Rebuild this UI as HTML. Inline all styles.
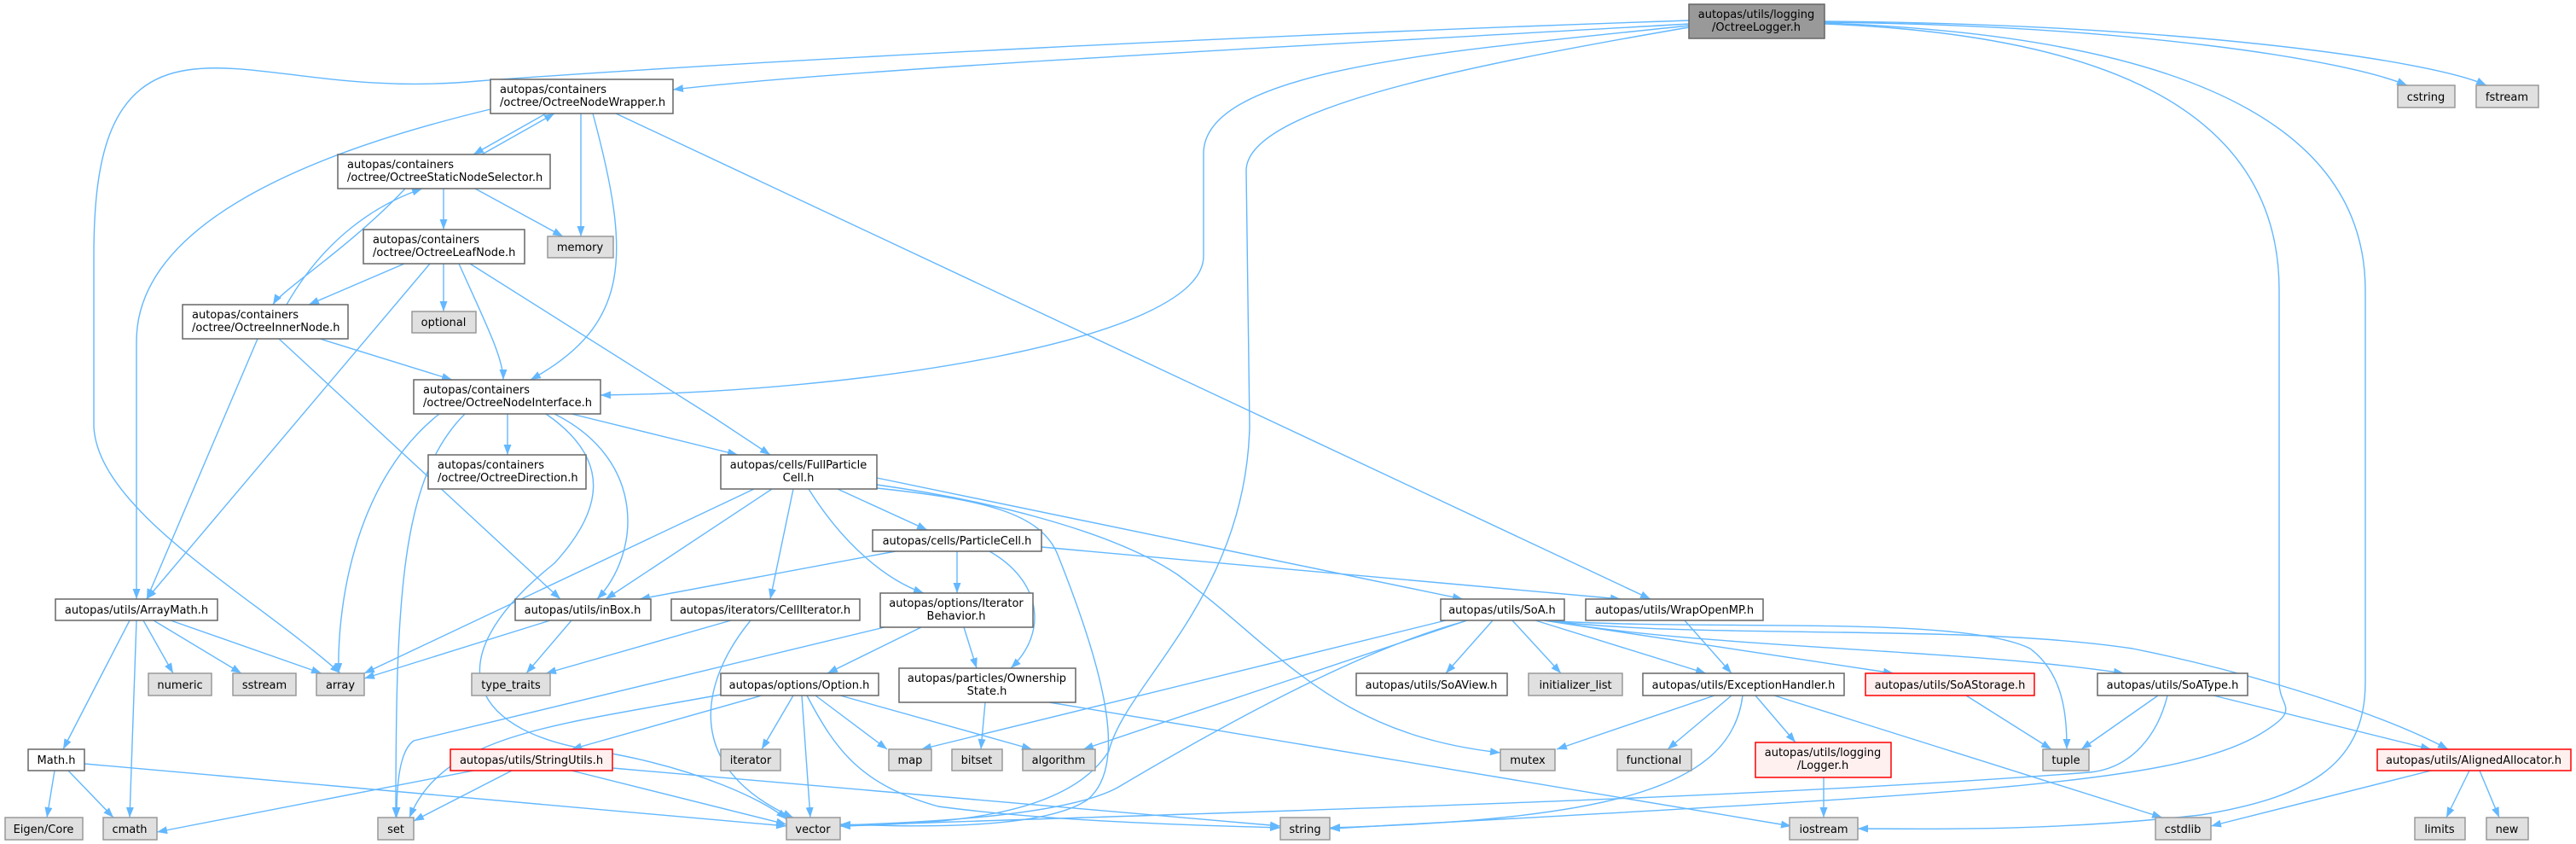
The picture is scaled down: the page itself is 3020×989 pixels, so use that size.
<!DOCTYPE html>
<html><head><meta charset="utf-8"><style>
html,body{margin:0;padding:0;background:#fff}
svg{display:block}
text{font-family:"DejaVu Sans","Liberation Sans",sans-serif;font-size:13px;fill:#000}
.e{fill:none;stroke:#63b8ff;stroke-width:1.4}
.n{fill:#fff;stroke:#666;stroke-width:1.5}
.g{fill:#e0e0e0;stroke:#999;stroke-width:1.5}
.r{fill:#fff0f0;stroke:#f00;stroke-width:1.5}
.root{fill:#999;stroke:#666;stroke-width:1.5}
</style></head><body>
<svg width="3020" height="989" viewBox="0 0 3020 989" xmlns="http://www.w3.org/2000/svg">
<defs><marker id="a" markerUnits="userSpaceOnUse" markerWidth="13" markerHeight="10" refX="12" refY="4.5" orient="auto"><path d="M0,0 L12,4.5 L0,9 z" fill="#63b8ff"/></marker></defs>
<g class="e" marker-end="url(#a)">
<path d="M1980,28 C1600,50 1000,80 789,105"/>
<path d="M1980,24 C1500,40 900,70 560,95 C400,110 300,70 220,82 C130,95 110,180 110,300 L110,500 C115,600 300,700 399,789"/>
<path d="M1980,30 C1700,60 1411,80 1411,180 L1411,300 C1411,400 1000,460 704,463"/>
<path d="M1980,32 C1700,80 1461,130 1461,200 L1465,500 C1460,700 1320,800 1300,880 C1250,960 1100,965 985,968"/>
<path d="M2139,26 C2500,30 2750,70 2822,100"/>
<path d="M2139,25 C2550,28 2850,70 2915,100"/>
<path d="M2139,28 C2450,40 2672,120 2672,340 L2672,800 C2672,830 2700,830 2650,860 C2550,920 2300,930 1559,971"/>
<path d="M2139,27 C2500,40 2773,120 2773,340 L2773,800 C2773,900 2700,935 2580,955 C2400,975 2250,971 2178,971"/>
<path d="M640,133 L555,181"/>
<path d="M565,181 L650,133"/>
<path d="M681,133 L681,277"/>
<path d="M695,133 C740,300 740,380 622,445"/>
<path d="M722,133 L1935,702"/>
<path d="M575,128 C400,170 160,250 160,400 L160,702"/>
<path d="M520,221 L520,269"/>
<path d="M557,221 L660,277"/>
<path d="M475,221 C410,290 330,340 320,357"/>
<path d="M336,357 C380,280 440,240 495,221"/>
<path d="M474,309 L362,357"/>
<path d="M504,309 L172,702"/>
<path d="M520,309 L520,365"/>
<path d="M538,309 C570,380 590,420 590,445"/>
<path d="M551,309 L838,490 L903,533"/>
<path d="M302,397 L172,702"/>
<path d="M327,397 L657,702"/>
<path d="M375,397 L530,445"/>
<path d="M595,485 L595,533"/>
<path d="M670,485 L865,533"/>
<path d="M515,485 C420,560 395,700 397,789"/>
<path d="M545,485 C470,560 464,700 464,958"/>
<path d="M650,485 C760,540 750,650 700,702"/>
<path d="M640,485 C720,540 705,600 650,660 C500,780 560,860 700,880 C820,900 900,940 922,960"/>
<path d="M884,573 L427,789"/>
<path d="M905,573 L710,702"/>
<path d="M930,573 L903,702"/>
<path d="M948,573 C990,640 1040,680 1083,695"/>
<path d="M982,573 L1087,621"/>
<path d="M1028,560 L1715,702"/>
<path d="M1028,568 C1150,585 1300,620 1380,673 C1500,760 1560,860 1759,882"/>
<path d="M1028,572 C1150,585 1220,600 1240,650 C1300,800 1320,900 1275,937 C1220,975 1050,968 985,966"/>
<path d="M1050,646 L750,702"/>
<path d="M1122,646 L1122,695"/>
<path d="M1160,646 C1220,680 1230,740 1185,783"/>
<path d="M1221,641 L1900,702"/>
<path d="M1080,735 L970,789"/>
<path d="M1130,735 L1145,783"/>
<path d="M1037,735 L485,868 C468,880 465,920 465,958"/>
<path d="M857,727 L640,789"/>
<path d="M880,727 C820,800 800,900 930,958"/>
<path d="M645,727 L427,795"/>
<path d="M670,727 L617,789"/>
<path d="M152,727 L74,878"/>
<path d="M160,727 L152,958"/>
<path d="M168,727 L203,789"/>
<path d="M180,727 L283,789"/>
<path d="M200,727 L377,789"/>
<path d="M64,903 L55,958"/>
<path d="M80,903 L133,958"/>
<path d="M99,895 L922,968"/>
<path d="M893,815 L670,878"/>
<path d="M845,814 C650,850 520,860 480,958"/>
<path d="M930,815 L893,878"/>
<path d="M940,815 L950,958"/>
<path d="M946,815 C980,880 1010,920 1100,945 C1250,965 1450,968 1501,970"/>
<path d="M956,815 L1040,878"/>
<path d="M985,815 L1210,878"/>
<path d="M1155,823 L1150,878"/>
<path d="M1230,823 L2100,968"/>
<path d="M555,903 L184,975"/>
<path d="M600,903 L485,962"/>
<path d="M670,903 L922,966"/>
<path d="M718,900 L1501,968"/>
<path d="M1695,727 L1080,878"/>
<path d="M1720,727 L1270,878"/>
<path d="M1717,728 C1600,760 1450,840 1310,923 C1250,955 1100,963 985,967"/>
<path d="M1750,727 L1695,789"/>
<path d="M1773,727 L1830,789"/>
<path d="M1800,727 L2000,789"/>
<path d="M1810,727 L2220,789"/>
<path d="M1813,727 C2000,760 2300,760 2490,789"/>
<path d="M1810,727 C2000,740 2300,720 2380,760 C2420,790 2423,840 2423,878"/>
<path d="M1810,727 C2000,750 2300,730 2500,760 C2650,790 2800,840 2870,878"/>
<path d="M1975,727 L2030,789"/>
<path d="M2010,815 L1825,878"/>
<path d="M2030,815 L1955,878"/>
<path d="M2043,815 C2030,920 1900,960 1559,970"/>
<path d="M2058,815 L2105,870"/>
<path d="M2080,815 L2535,958"/>
<path d="M2138,911 L2138,958"/>
<path d="M2305,815 L2405,878"/>
<path d="M2530,815 L2440,878"/>
<path d="M2541,815 C2530,860 2500,900 2450,905 C2000,940 1300,955 985,968"/>
<path d="M2595,815 L2850,878"/>
<path d="M2850,903 L2592,968"/>
<path d="M2895,903 L2868,958"/>
<path d="M2907,903 L2930,958"/>
</g>
<g>
<rect class="root" x="1980" y="5" width="159" height="40"/><text x="2059" y="21" text-anchor="middle">autopas/utils/logging</text><text x="2059" y="36" text-anchor="middle">/OctreeLogger.h</text>
<rect class="g" x="2811" y="100" width="67" height="26"/><text x="2844" y="118" text-anchor="middle">cstring</text>
<rect class="g" x="2903" y="100" width="73" height="26"/><text x="2939" y="118" text-anchor="middle">fstream</text>
<rect class="n" x="575" y="93" width="214" height="40"/><text x="586" y="109">autopas/containers</text><text x="586" y="124">/octree/OctreeNodeWrapper.h</text>
<rect class="n" x="396" y="181" width="249" height="40"/><text x="407" y="197">autopas/containers</text><text x="407" y="212">/octree/OctreeStaticNodeSelector.h</text>
<rect class="g" x="642" y="277" width="77" height="25"/><text x="680" y="294" text-anchor="middle">memory</text>
<rect class="n" x="426" y="269" width="189" height="40"/><text x="437" y="285">autopas/containers</text><text x="437" y="300">/octree/OctreeLeafNode.h</text>
<rect class="g" x="483" y="365" width="75" height="25"/><text x="520" y="382" text-anchor="middle">optional</text>
<rect class="n" x="214" y="357" width="194" height="40"/><text x="225" y="373">autopas/containers</text><text x="225" y="388">/octree/OctreeInnerNode.h</text>
<rect class="n" x="485" y="445" width="219" height="40"/><text x="496" y="461">autopas/containers</text><text x="496" y="476">/octree/OctreeNodeInterface.h</text>
<rect class="n" x="502" y="533" width="185" height="40"/><text x="513" y="549">autopas/containers</text><text x="513" y="564">/octree/OctreeDirection.h</text>
<rect class="n" x="845" y="533" width="183" height="40"/><text x="936" y="549" text-anchor="middle">autopas/cells/FullParticle</text><text x="936" y="564" text-anchor="middle">Cell.h</text>
<rect class="n" x="1023" y="621" width="198" height="25"/><text x="1122" y="638" text-anchor="middle">autopas/cells/ParticleCell.h</text>
<rect class="n" x="1032" y="695" width="179" height="40"/><text x="1121" y="711" text-anchor="middle">autopas/options/Iterator</text><text x="1121" y="726" text-anchor="middle">Behavior.h</text>
<rect class="n" x="65" y="702" width="190" height="25"/><text x="160" y="719" text-anchor="middle">autopas/utils/ArrayMath.h</text>
<rect class="n" x="604" y="702" width="159" height="25"/><text x="683" y="719" text-anchor="middle">autopas/utils/inBox.h</text>
<rect class="n" x="787" y="702" width="221" height="25"/><text x="897" y="719" text-anchor="middle">autopas/iterators/CellIterator.h</text>
<rect class="n" x="1689" y="702" width="145" height="25"/><text x="1761" y="719" text-anchor="middle">autopas/utils/SoA.h</text>
<rect class="n" x="1859" y="702" width="208" height="25"/><text x="1963" y="719" text-anchor="middle">autopas/utils/WrapOpenMP.h</text>
<rect class="g" x="174" y="789" width="74" height="26"/><text x="211" y="807" text-anchor="middle">numeric</text>
<rect class="g" x="273" y="789" width="74" height="26"/><text x="310" y="807" text-anchor="middle">sstream</text>
<rect class="g" x="371" y="789" width="56" height="26"/><text x="399" y="807" text-anchor="middle">array</text>
<rect class="g" x="553" y="789" width="92" height="26"/><text x="599" y="807" text-anchor="middle">type_traits</text>
<rect class="n" x="845" y="789" width="185" height="26"/><text x="937" y="807" text-anchor="middle">autopas/options/Option.h</text>
<rect class="n" x="1054" y="783" width="207" height="40"/><text x="1157" y="799" text-anchor="middle">autopas/particles/Ownership</text><text x="1157" y="814" text-anchor="middle">State.h</text>
<rect class="n" x="1590" y="789" width="177" height="26"/><text x="1678" y="807" text-anchor="middle">autopas/utils/SoAView.h</text>
<rect class="g" x="1792" y="789" width="110" height="26"/><text x="1847" y="807" text-anchor="middle">initializer_list</text>
<rect class="n" x="1926" y="789" width="236" height="26"/><text x="2044" y="807" text-anchor="middle">autopas/utils/ExceptionHandler.h</text>
<rect class="r" x="2187" y="789" width="198" height="26"/><text x="2286" y="807" text-anchor="middle">autopas/utils/SoAStorage.h</text>
<rect class="n" x="2459" y="789" width="176" height="26"/><text x="2547" y="807" text-anchor="middle">autopas/utils/SoAType.h</text>
<rect class="n" x="33" y="878" width="66" height="25"/><text x="66" y="895" text-anchor="middle">Math.h</text>
<rect class="r" x="528" y="878" width="190" height="25"/><text x="623" y="895" text-anchor="middle">autopas/utils/StringUtils.h</text>
<rect class="g" x="845" y="878" width="70" height="25"/><text x="880" y="895" text-anchor="middle">iterator</text>
<rect class="g" x="1042" y="878" width="50" height="25"/><text x="1067" y="895" text-anchor="middle">map</text>
<rect class="g" x="1116" y="878" width="59" height="25"/><text x="1145" y="895" text-anchor="middle">bitset</text>
<rect class="g" x="1199" y="878" width="85" height="25"/><text x="1241" y="895" text-anchor="middle">algorithm</text>
<rect class="g" x="1759" y="878" width="64" height="25"/><text x="1791" y="895" text-anchor="middle">mutex</text>
<rect class="g" x="1896" y="878" width="87" height="25"/><text x="1939" y="895" text-anchor="middle">functional</text>
<rect class="r" x="2058" y="870" width="159" height="41"/><text x="2137" y="886" text-anchor="middle">autopas/utils/logging</text><text x="2137" y="901" text-anchor="middle">/Logger.h</text>
<rect class="g" x="2395" y="878" width="54" height="25"/><text x="2422" y="895" text-anchor="middle">tuple</text>
<rect class="r" x="2787" y="878" width="227" height="25"/><text x="2900" y="895" text-anchor="middle">autopas/utils/AlignedAllocator.h</text>
<rect class="g" x="6" y="958" width="91" height="26"/><text x="51" y="976" text-anchor="middle">Eigen/Core</text>
<rect class="g" x="121" y="958" width="63" height="26"/><text x="152" y="976" text-anchor="middle">cmath</text>
<rect class="g" x="443" y="958" width="42" height="26"/><text x="464" y="976" text-anchor="middle">set</text>
<rect class="g" x="922" y="958" width="63" height="26"/><text x="953" y="976" text-anchor="middle">vector</text>
<rect class="g" x="1501" y="958" width="58" height="26"/><text x="1530" y="976" text-anchor="middle">string</text>
<rect class="g" x="2098" y="958" width="80" height="26"/><text x="2138" y="976" text-anchor="middle">iostream</text>
<rect class="g" x="2527" y="958" width="65" height="26"/><text x="2559" y="976" text-anchor="middle">cstdlib</text>
<rect class="g" x="2831" y="958" width="59" height="26"/><text x="2860" y="976" text-anchor="middle">limits</text>
<rect class="g" x="2915" y="958" width="49" height="26"/><text x="2939" y="976" text-anchor="middle">new</text>
</g>
</svg>
</body></html>
